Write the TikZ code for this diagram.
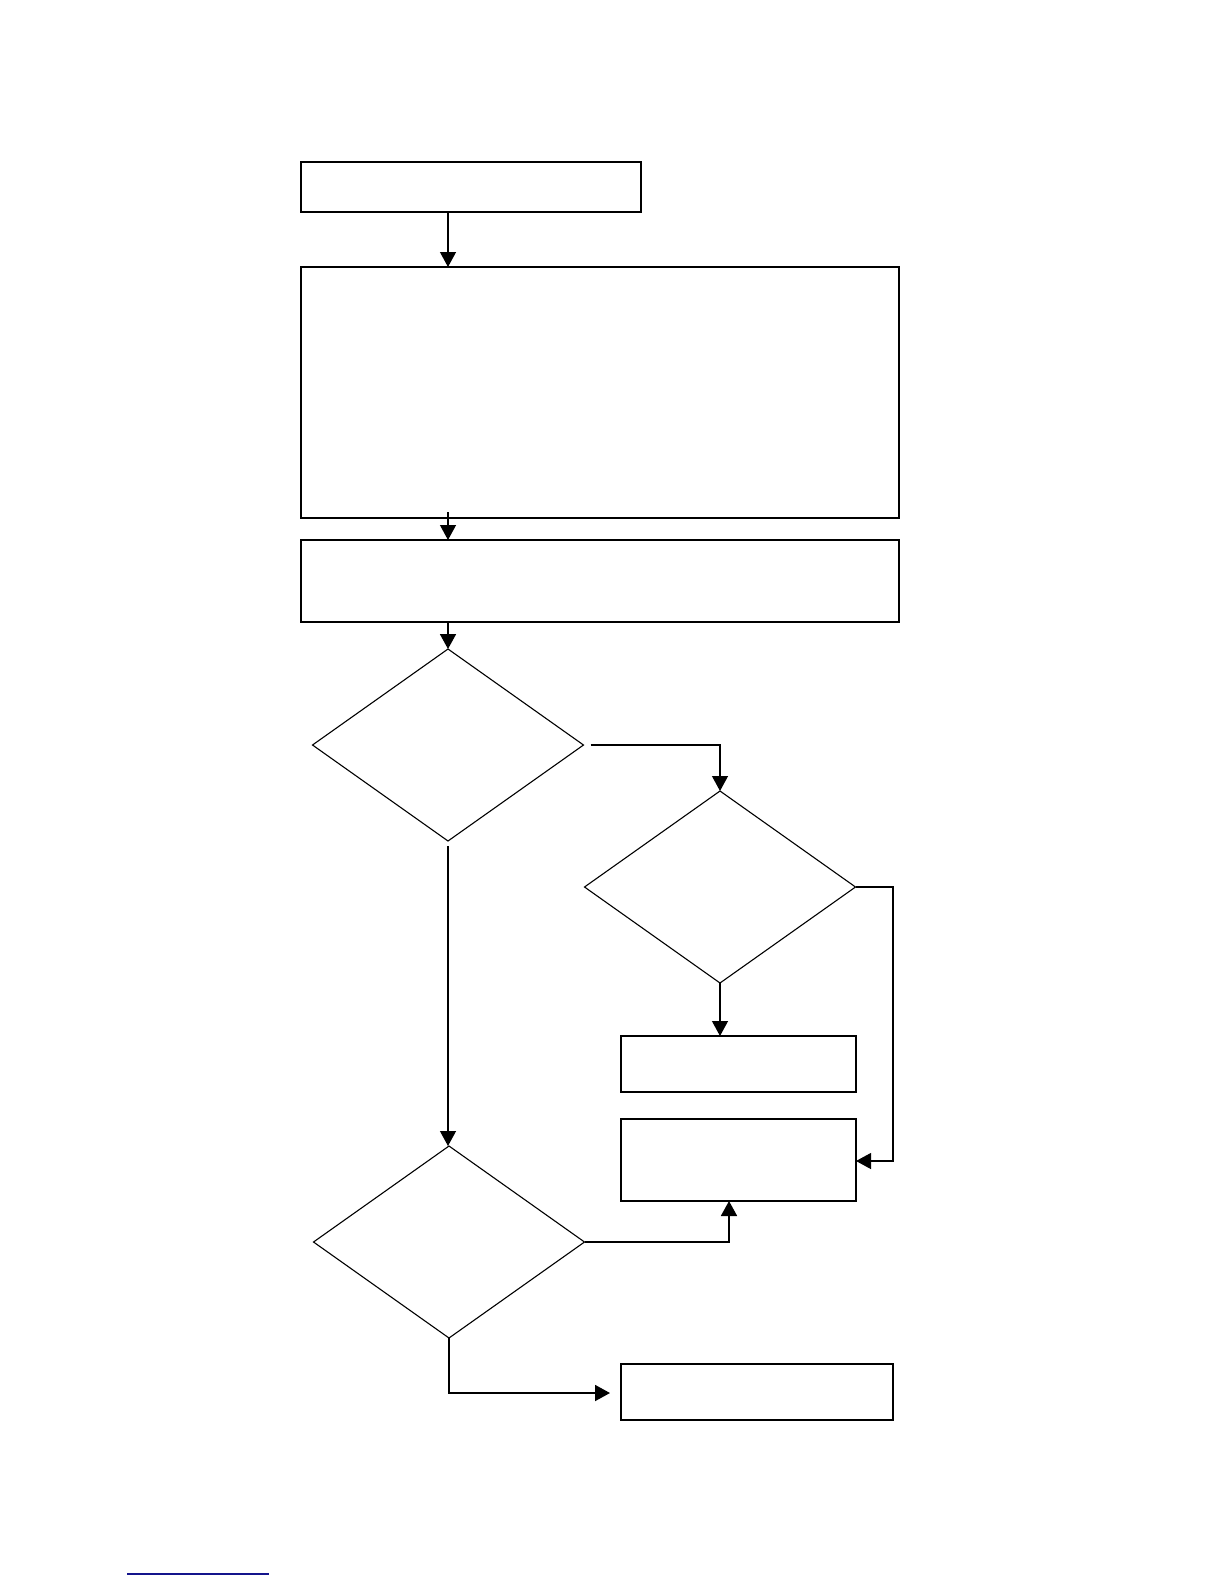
\documentclass[tikz,border=0pt]{standalone}
\usetikzlibrary{arrows.meta,shapes.geometric}
\tikzset{
  boxthin/.style={draw, rectangle, line width=0.55pt, inner sep=0pt, outer sep=0pt},
  boxthick/.style={draw, rectangle, line width=1pt, inner sep=0pt, outer sep=0pt},
  decision/.style={draw, diamond, line width=0.55pt, inner sep=0pt, outer sep=0pt, minimum width=135.5pt, minimum height=96pt},
  arr/.style={line width=0.6pt, -{Triangle[length=7.5pt,width=8pt]}},
  arrthick/.style={line width=0.9pt, -{Triangle[length=7.5pt,width=8pt]}}
}
\begin{document}
\begin{tikzpicture}[x=0.5pt,y=-0.5pt]
\useasboundingbox (0,0) rectangle (1224,1584);
% boxes
\node[boxthick, minimum width=170pt, minimum height=25pt] (b1) at (471,187) {};
\node[boxthin, minimum width=299pt, minimum height=125.5pt] (b2) at (600,392.5) {};
\node[boxthick, minimum width=299pt, minimum height=41pt] (b3) at (600,581) {};
\node[boxthin, minimum width=117.5pt, minimum height=28pt] (b4) at (738.5,1064) {};
\node[boxthick, minimum width=117.5pt, minimum height=41pt] (b5) at (738.5,1160) {};
\node[boxthin, minimum width=136pt, minimum height=28pt] (b6) at (757,1392) {};
% decisions
\node[decision] (d1) at (448,745) {};
\node[decision] (d2) at (720,887) {};
\node[decision] (d3) at (449,1242) {};
% helper coordinates
\coordinate (r1) at (893,1161);
\coordinate (b5in) at (729,1201);
\coordinate (b6in) at (610,1393);
% connectors
\draw[arr] (b1.south -| d1.north) -- (b2.north -| d1.north);
\draw[arr] ([yshift=3pt]b2.south -| d1.north) -- (b3.north -| d1.north);
\draw[arrthick] (b3.south -| d1.north) -- (d1.north);
\draw[arr] ([xshift=3.5pt]d1.east) -| (d2.north);
\draw[arr] (d2.east) -| (r1) -- (r1 -| b5.east);
\draw[arr] (d2.south) -- (b4.north -| d2.south);
\draw[arr] ([yshift=-2.5pt]d1.south) -- (d3.north -| d1.south);
\draw[arrthick] (d3.east) -| (b5in);
\draw[arrthick] (d3.south) |- (b6in);
% footnote rule
\draw[line width=0.6pt, color={rgb,255:red,20;green,20;blue,140}] (127,1574) -- (269,1574);
\end{tikzpicture}
\end{document}
